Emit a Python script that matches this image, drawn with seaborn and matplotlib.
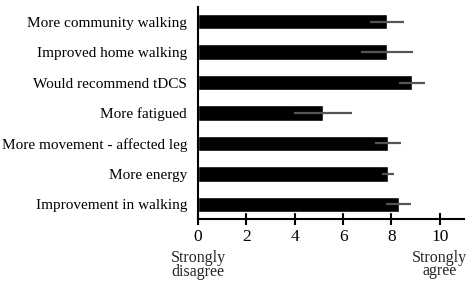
import matplotlib
matplotlib.use("Agg")
import matplotlib.pyplot as plt
import numpy as np
import pandas as pd
import seaborn as sns

items = [
    "More community walking",
    "Improved home walking",
    "Would recommend tDCS",
    "More fatigued",
    "More movement - affected leg",
    "More energy",
    "Improvement in walking",
]
means = [7.82, 7.82, 8.85, 5.16, 7.86, 7.86, 8.30]
errors = [0.70, 1.06, 0.55, 1.20, 0.55, 0.24, 0.52]
xticks = [0, 2, 4, 6, 8, 10]

sns.set_style("ticks")
plt.rcParams["font.family"] = ["Liberation Serif", "DejaVu Serif"]

df = pd.DataFrame({"item": items, "score": means})

fig = plt.figure(figsize=(4.74, 2.85), dpi=100)
ax = fig.add_axes([0.4177, 0.2316, 0.979 - 0.4177, 0.9754 - 0.2316])

sns.barplot(data=df, x="score", y="item", orient="h", color="black",
            width=0.5, errorbar=None, saturation=1, ax=ax)
ax.errorbar(means, np.arange(len(items)), xerr=errors, fmt="none",
            ecolor="#555555", elinewidth=1.6, capsize=0)

ax.set_xlim(0, 11)
ax.set_ylim(len(items) - 0.52, -0.48)
ax.set_xticks(xticks)
ax.set_xlabel("")
ax.set_ylabel("")
sns.despine(ax=ax)
for side in ["left", "bottom"]:
    ax.spines[side].set_linewidth(1.5)
    ax.spines[side].set_color("black")
ax.tick_params(axis="x", direction="inout", length=8, width=1.5,
               labelsize=12.5, pad=3, colors="black")
ax.tick_params(axis="y", length=0, labelsize=11, pad=8, colors="black")

ax.text(0, -0.145, "Strongly\ndisagree", transform=ax.get_xaxis_transform(),
        ha="center", va="top", fontsize=11.5, linespacing=0.85)
ax.text(10, -0.145, "Strongly\nagree", transform=ax.get_xaxis_transform(),
        ha="center", va="top", fontsize=11.5, linespacing=0.75)

fig.savefig("out.png", dpi=100)
